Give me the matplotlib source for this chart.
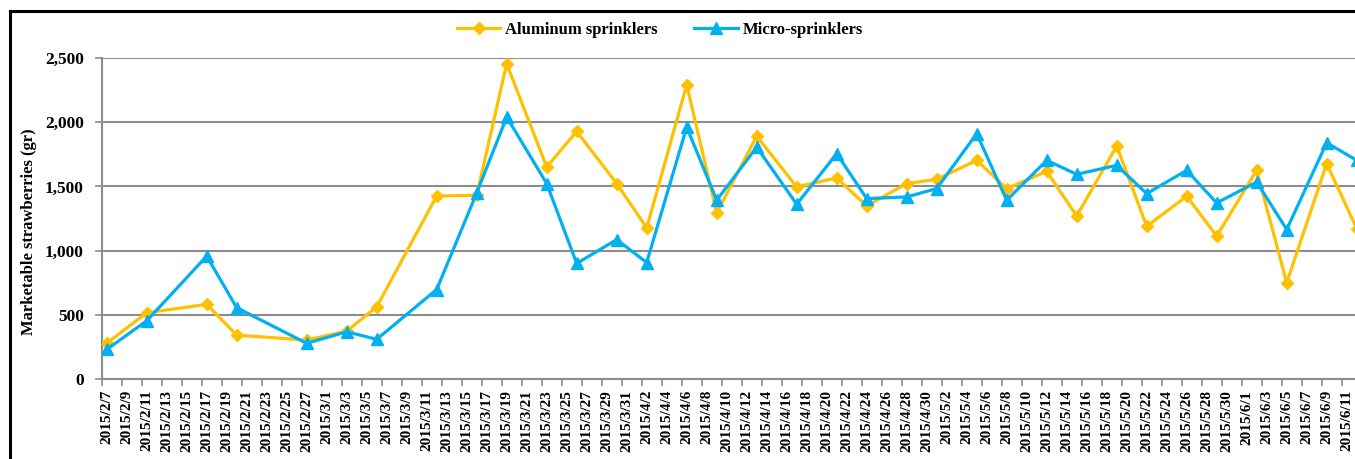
"""
Marketable strawberries: aluminum sprinklers vs micro-sprinklers (Feb-Jun 2015)
"""

import matplotlib
matplotlib.use('Agg')
import matplotlib.pyplot as plt
from matplotlib.patches import Rectangle
from matplotlib.ticker import FixedLocator, FuncFormatter
import matplotlib.dates as mdates
import pandas as pd

plt.rcParams['font.family'] = ['Liberation Serif', 'DejaVu Serif']
plt.rcParams['font.weight'] = 'bold'

# ── data ──────────────────────────────────────────────────────────────────────
dates = ['2015-02-07', '2015-02-11', '2015-02-17', '2015-02-20', '2015-02-27',
         '2015-03-03', '2015-03-06', '2015-03-12', '2015-03-16', '2015-03-19',
         '2015-03-23', '2015-03-26', '2015-03-30', '2015-04-02', '2015-04-06',
         '2015-04-09', '2015-04-13', '2015-04-17', '2015-04-21', '2015-04-24',
         '2015-04-28', '2015-05-01', '2015-05-05', '2015-05-08', '2015-05-12',
         '2015-05-15', '2015-05-19', '2015-05-22', '2015-05-26', '2015-05-29',
         '2015-06-02', '2015-06-05', '2015-06-09', '2015-06-12']

aluminum = [278, 516, 581, 342, 303, 373, 562, 1425, 1431, 2455,
            1651, 1928, 1522, 1177, 2291, 1293, 1892, 1496, 1566, 1348,
            1522, 1555, 1703, 1483, 1617, 1270, 1814, 1190, 1423, 1114,
            1625, 749, 1677, 1172]

micro = [230, 453, 957, 555, 278, 368, 309, 697, 1449, 2040,
         1522, 900, 1086, 907, 1962, 1392, 1806, 1361, 1755, 1405,
         1418, 1483, 1911, 1392, 1703, 1594, 1664, 1444, 1625, 1371,
         1534, 1164, 1840, 1703]

y_ticks = [0, 500, 1000, 1500, 2000, 2500]
axis_start, axis_end = '2015-02-07', '2015-06-14'

YELLOW = '#FFC000'
BLUE = '#00B0F0'
GRID = '#8C8C8C'

# ── figure ────────────────────────────────────────────────────────────────────
W, H = 1355, 459
fig = plt.figure(figsize=(W / 100, H / 100), dpi=100)

x0 = pd.Timestamp(axis_start)
x1 = pd.Timestamp(axis_end)
ndays = (x1 - x0).days
left_px, top_px, bottom_px = 101.7, 58, 379
ax = fig.add_axes([left_px / W, 1 - bottom_px / H,
                   ndays * 10.0 / W, (bottom_px - top_px) / H])

# points sit in the middle of each day slot
xd = pd.to_datetime(dates) + pd.Timedelta(hours=12)

ax.plot(xd, aluminum, color=YELLOW, lw=2.3, marker='D', ms=6.5,
        mec=YELLOW, mfc=YELLOW, label='Aluminum sprinklers', zorder=3)
ax.plot(xd, micro, color=BLUE, lw=2.3, marker='^', ms=8,
        mec=BLUE, mfc=BLUE, label='Micro-sprinklers', zorder=4)

ax.set_xlim(mdates.date2num(x0), mdates.date2num(x1))
ax.set_ylim(0, 2500)

# y axis
ax.set_yticks(y_ticks)
ax.yaxis.set_major_formatter(FuncFormatter(lambda v, p: f'{int(v):,}'))
ax.tick_params(axis='y', which='major', length=5, width=1.2, color=GRID,
               labelsize=12.5, pad=8)
ax.grid(axis='y', color=GRID, lw=1.5, zorder=0)
ax.set_ylabel('Marketable strawberries (gr)', fontsize=12,
              fontweight='bold', labelpad=6)
ax.yaxis.set_label_coords(-0.051, 0.46)

# x axis: tick marks on slot edges, labels centred in slots
label_days = pd.date_range(axis_start, '2015-06-11', freq='2D')
edge_nums = mdates.date2num(pd.date_range(axis_start, axis_end, freq='2D'))
mid_nums = mdates.date2num(label_days + pd.Timedelta(hours=12))
ax.xaxis.set_major_locator(FixedLocator(mid_nums))
ax.set_xticklabels([f'{d.year}/{d.month}/{d.day}' for d in label_days],
                   rotation=90, fontsize=11, fontweight='bold')
ax.xaxis.set_minor_locator(FixedLocator(edge_nums))
ax.tick_params(axis='x', which='major', length=0, pad=8)
ax.tick_params(axis='x', which='minor', length=5, width=1.2, color=GRID)

for side in ['top', 'right']:
    ax.spines[side].set_visible(False)
for side in ['left', 'bottom']:
    ax.spines[side].set_color(GRID)
    ax.spines[side].set_linewidth(1.5)

# legend
leg = fig.legend(loc='center', bbox_to_anchor=(0.487, 1 - 30 / H), ncol=2,
                 frameon=False, handlelength=2.6,
                 columnspacing=2.2, handletextpad=0.3,
                 prop={'weight': 'bold', 'size': 12})

# chart area border (cut off on the right and bottom)
fig.add_artist(Rectangle((9.5 / W, -0.05), 1.1, 1 - 10.5 / H + 0.05,
                         transform=fig.transFigure, fill=False,
                         edgecolor='black', lw=2.2, clip_on=False))

fig.savefig('out.png', dpi=100)
plt.close()
